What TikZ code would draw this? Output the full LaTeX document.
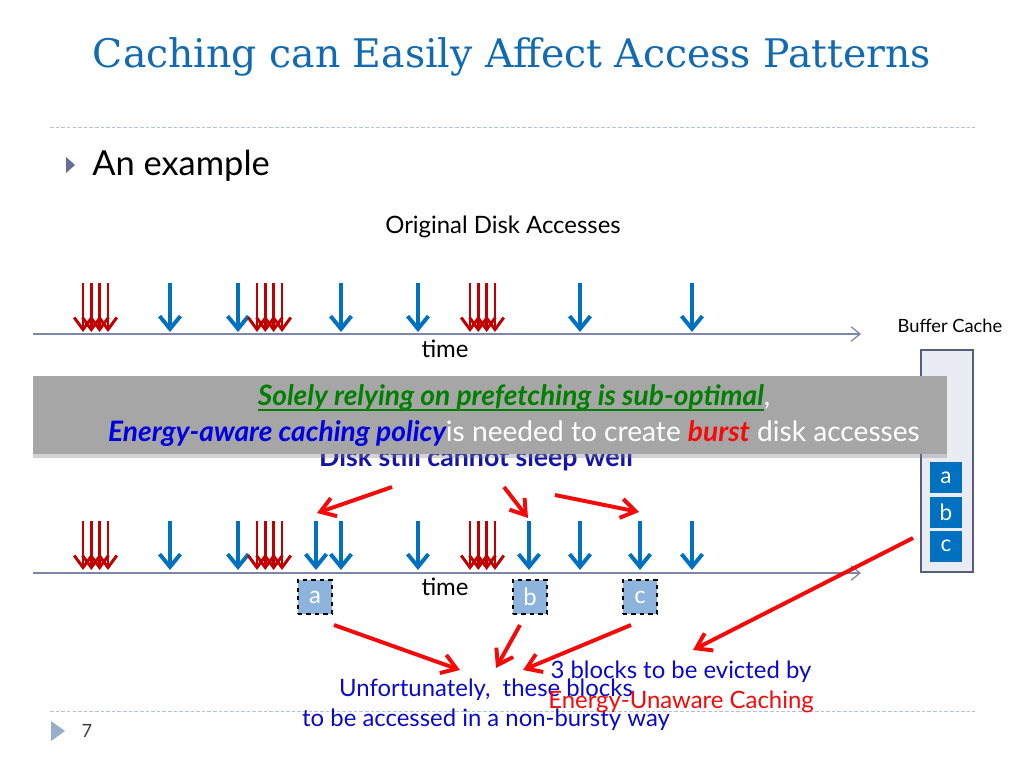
\documentclass[tikz,border=0pt]{standalone}
\usepackage{fontspec}
\setmainfont{Lato}
\newfontfamily\titlefont{DejaVu Serif}
\usetikzlibrary{arrows.meta, positioning, shadows}
\definecolor{titleblue}{RGB}{18,106,178}
\definecolor{accessblue}{RGB}{0,112,192}
\definecolor{accessred}{RGB}{192,0,0}
\definecolor{evictred}{RGB}{245,10,10}
\definecolor{axisgray}{RGB}{125,135,170}
\definecolor{sepgray}{RGB}{185,192,210}
\definecolor{bulletgray}{RGB}{100,110,150}
\definecolor{footgray}{RGB}{150,175,205}
\definecolor{notegray}{RGB}{166,166,166}
\definecolor{notegreen}{RGB}{0,128,0}
\definecolor{noteblue}{RGB}{0,0,225}
\definecolor{textblue}{RGB}{10,10,200}
\definecolor{stillblue}{RGB}{20,20,170}
\definecolor{cachefill}{RGB}{233,236,243}
\definecolor{cacheline}{RGB}{85,95,120}
\definecolor{blockfill}{RGB}{140,180,220}
\newcommand{\thickul}[1]{\setbox0\hbox{#1}\rlap{\rule[-3.5pt]{\wd0}{1.2pt}}\box0}
\tikzset{
  blueaccess/.style={line width=2.8pt, accessblue,
    -{Straight Barb[length=3.2mm, width=5.2mm]}},
  redaccess/.style={line width=2.1pt, accessred,
    -{Straight Barb[length=3mm, width=4.4mm]}},
  timeaxis/.style={line width=0.9pt, axisgray,
    -{Straight Barb[length=2.2mm, width=3.6mm]}},
  sepline/.style={line width=0.6pt, sepgray, dash pattern=on 2.5pt off 1.5pt},
  bigarrow/.style={line width=2.8pt, evictred,
    -{Straight Barb[length=3.6mm, width=4.8mm]}},
  labeltext/.style={font=\fontsize{17}{20}\selectfont, inner sep=0pt},
  cachebox/.style={rectangle, draw=cacheline, fill=cachefill, line width=1pt,
    minimum width=1.3cm, minimum height=5.55cm, inner sep=0pt},
  cachecell/.style={rectangle, fill=accessblue, text=white,
    minimum width=0.8cm, minimum height=0.775cm, inner sep=0pt,
    font=\fontsize{16}{18}\selectfont},
  blockbox/.style={rectangle, draw=black, dashed, line width=1.2pt,
    fill=blockfill, text=white, minimum size=0.85cm, inner sep=0pt,
    font=\fontsize{17}{18}\selectfont},
  notebox/.style={rectangle, fill=notegray, minimum width=22.85cm,
    minimum height=1.95cm, inner sep=0pt,
    drop shadow={shadow xshift=0pt, shadow yshift=-3pt, opacity=0.35}},
  bluetext/.style={text=textblue, align=center, inner sep=0pt,
    font=\fontsize{17}{21.3}\selectfont},
}

\begin{document}
\begin{tikzpicture}[x=0.025cm, y=-0.025cm]
  \useasboundingbox[fill=white] (0,0) rectangle (1024,768);

  % title and header
  \node[text=titleblue, font=\titlefont\fontsize{28}{33}\selectfont] (title) at (512,57)
    {Caching can Easily Affect Access Patterns};
  \draw[sepline] (50,127) -- (975,127);
  \fill[bulletgray] (66,157) -- (75,165) -- (66,173) -- cycle;
  \node[anchor=west, font=\fontsize{24.5}{28}\selectfont, inner sep=0pt] (example) at (92,166)
    {An example};
  \node[labeltext] (orig) at (503,227) {Original Disk Accesses};

  % original accesses
  \foreach \x in {170,238,341,418,580,692}
    \draw[blueaccess] (\x,283) -- (\x,332);
  \foreach \g in {83,257,470}
    \foreach \d in {0,8.3,16.6,25}
      \draw[redaccess] (\g+\d,283) -- (\g+\d,332);
  \draw[timeaxis] (33,334) -- (861,334);
  \node[labeltext] (time1) at (445,349) {time};

  % buffer cache
  \node[font=\fontsize{13}{15}\selectfont, inner sep=0pt] (bclabel) at (950,326) {Buffer Cache};
  \node[cachebox] (cache) at (947,461) {};
  \node[cachecell] (ca) at (946,477.5) {a};
  \node[cachecell] (cb) at (946,512.5) {b};
  \node[cachecell] (cc) at (946,546) {c};

  % accesses after caching
  \node[text=stillblue, font=\bfseries\fontsize{19}{22}\selectfont, inner sep=0pt] (still)
    at (476,459) {Disk still cannot sleep well};
  \foreach \x in {170,238,316,341,418,529,580,640,692}
    \draw[blueaccess] (\x,521) -- (\x,570);
  \foreach \g in {83,257,470}
    \foreach \d in {0,8.3,16.6,25}
      \draw[redaccess] (\g+\d,521) -- (\g+\d,570);
  \draw[timeaxis] (33,573) -- (861,573);
  \node[labeltext] (time2) at (445,587) {time};
  \node[blockbox] (ea) at (315,597) {a};
  \node[blockbox] (eb) at (530,597) {b};
  \node[blockbox] (ec) at (640,597) {c};

  % note box
  \node[notebox] (note) at (490,415) {};
  \node[align=center, text=white, inner sep=0pt,
    font=\fontsize{20}{25.5}\selectfont] (notetext) at (514,416)
    {\textcolor{notegreen}{\thickul{\bfseries\itshape Solely relying on prefetching is sub-optimal}},\\
     \textcolor{noteblue}{\bfseries\itshape Energy-aware caching policy}is needed to create
     \textcolor{evictred}{\bfseries\itshape burst} disk accesses};

  % red pointers
  \coordinate (p1s) at (392,487);
  \coordinate (p1e) at (317,513);
  \coordinate (p2s) at (504,487);
  \coordinate (p2e) at (528,518);
  \coordinate (p3s) at (555,495);
  \coordinate (p3e) at (639,512);
  \draw[bigarrow] (p1s) -- (p1e);
  \draw[bigarrow] (p2s) -- (p2e);
  \draw[bigarrow] (p3s) -- (p3e);

  \coordinate (qa) at (334,625);
  \coordinate (qb) at (520,625);
  \coordinate (qc) at (631,625);
  \coordinate (qd) at (913,538);
  \coordinate (ta) at (460,670);
  \coordinate (tb) at (496,668);
  \coordinate (tc) at (523,670);
  \coordinate (td) at (693,650);
  \draw[bigarrow] (qa) -- (ta);
  \draw[bigarrow] (qb) -- (tb);
  \draw[bigarrow] (qc) -- (tc);
  \draw[bigarrow] (qd) -- (td);

  % footer
  \draw[sepline] (50,711) -- (975,711);
  \fill[footgray] (51,721) -- (65,731) -- (51,741) -- cycle;
  \node[text=black!75, font=\fontsize{13}{15}\selectfont, inner sep=0pt] (page) at (87,731) {7};

  % explanations
  \node[bluetext] (unfort) at (486,705)
    {Unfortunately,\ \ these blocks\\to be accessed in a non-bursty way};
  \node[bluetext] (evict) at (681,687)
    {3 blocks to be evicted by\\\textcolor{evictred}{Energy-Unaware Caching}};
\end{tikzpicture}
\end{document}
